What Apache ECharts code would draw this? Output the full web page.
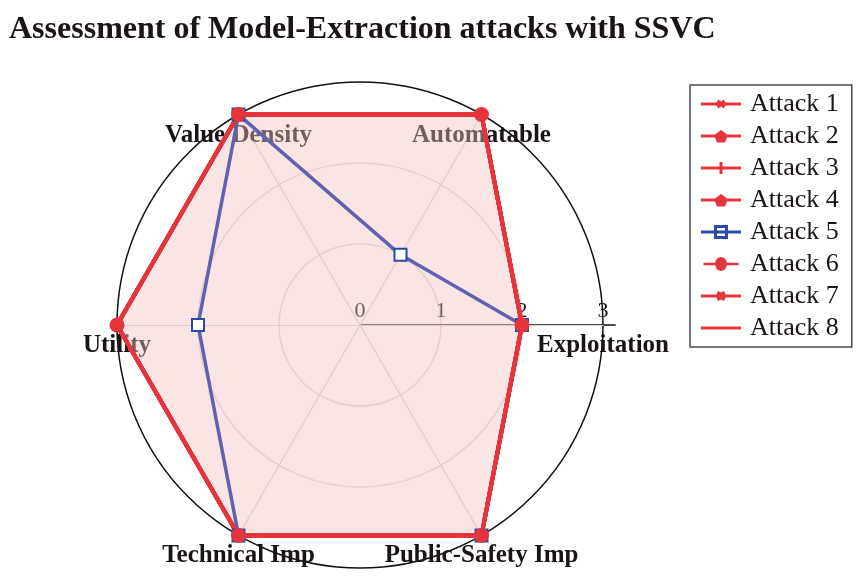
<!DOCTYPE html>
<html>
<head>
<meta charset="utf-8">
<script src="https://cdn.jsdelivr.net/npm/echarts@6/dist/echarts.min.js"></script>
<style>html,body{margin:0;padding:0;background:#fff}#c{width:865px;height:579px}</style>
</head>
<body>
<div id="c"></div>
<script>
const titleText = 'Assessment of Model-Extraction attacks with SSVC';
const indicators = ['Exploitation', 'Automatable', 'Value Density', 'Utility', 'Technical Imp', 'Public-Safety Imp'];
const axisMax = 3;
const tickValues = [0, 1, 2, 3];
const seriesNames = ['Attack 1', 'Attack 2', 'Attack 3', 'Attack 4', 'Attack 5', 'Attack 6', 'Attack 7', 'Attack 8'];
const attack1 = [2, 3, 3, 3, 3, 3];
const attack2 = [2, 3, 3, 3, 3, 3];
const attack3 = [2, 3, 3, 3, 3, 3];
const attack4 = [2, 3, 3, 3, 3, 3];
const attack5 = [2, 1, 3, 2, 3, 3];
const attack6 = [2, 3, 3, 3, 3, 3];
const attack7 = [2, 3, 3, 3, 3, 3];
const attack8 = [2, 3, 3, 3, 3, 3];
const seriesValues = [attack1, attack2, attack3, attack4, attack5, attack6, attack7, attack8];

const RED = '#e5343b';
const BLUE = '#2a4aa8';
const BLUE_LINE = '#6061b0';
const SERIF = "'Liberation Serif', 'DejaVu Serif', serif";

const T = 'M0,0L0.01,0L0,0.01Z M40,14L39.99,14L40,13.99Z ';
const legendIcons = [
  'path://' + T + 'M0,5.5H15.5L17.5,2.5L20,4.5L22.5,2.5L24.5,5.5H40V8.5H24.5L22.5,11.5L20,9.5L17.5,11.5L15.5,8.5H0Z',
  'path://' + T + 'M0,5.5H14L20,1L26,5.5H40V8.5H26L24,13.5H16L14,8.5H0Z',
  'path://' + T + 'M0,5.5H18.5V1H21.5V5.5H40V8.5H21.5V13H18.5V8.5H0Z',
  'path://' + T + 'M0,5.5H14L20,1L26,5.5H40V8.5H26L24,13.5H16L14,8.5H0Z',
  'path://' + T + 'M0,5.5H40V8.5H0Z M13,0H27V14H13Z M16,3V11H24V3Z',
  'path://' + T + 'M0,5.5H13.5A6.5,6.5 0 0 1 26.5,5.5H40V8.5H26.5A6.5,6.5 0 0 1 13.5,8.5H0Z',
  'path://' + T + 'M0,5.5H15.5L17,2L20,3.5L23,2L24.5,5.5H40V8.5H24.5L23,12L20,10.5L17,12L15.5,8.5H0Z',
  'path://' + T + 'M0,5.5H40V8.5H0Z'
];
const legendColors = [RED, RED, RED, RED, BLUE, RED, RED, RED];

const symbols = [
  'path://M4,0H6V4H10V6H6V10H4V6H0V4H4Z',
  'path://M5,0L10,3.8L8.1,10H1.9L0,3.8Z',
  'path://M4,0H6V4H10V6H6V10H4V6H0V4H4Z',
  'path://M5,0L10,3.8L8.1,10H1.9L0,3.8Z',
  'emptyRect',
  'circle',
  'path://M5,0L6.2,3.5L10,3.8L7,6.2L8.1,10L5,7.8L1.9,10L3,6.2L0,3.8L3.8,3.5Z',
  'none'
];

const chart = echarts.init(document.getElementById('c'), null, {renderer: 'canvas'});

const series = seriesNames.map((name, i) => {
  const isBlue = i === 4;
  return {
    type: 'radar',
    name: name,
    radarIndex: 0,
    z: 2,
    symbol: symbols[i],
    symbolSize: isBlue ? 12 : (i === 5 ? 15 : 9),
    symbolRotate: i === 0 ? 45 : 0,
    itemStyle: {color: isBlue ? BLUE : RED, borderWidth: isBlue ? 3 : 0, borderColor: isBlue ? BLUE : RED},
    lineStyle: {color: isBlue ? BLUE_LINE : RED, width: isBlue ? 3.5 : 4},
    areaStyle: i === 0 ? {color: 'rgba(242,192,192,0.6)'} : undefined,
    data: [{value: seriesValues[i], name: name}]
  };
});

chart.setOption({
  animation: false,
  backgroundColor: '#fff',
  title: {
    text: titleText,
    left: 4, top: 9,
    textStyle: {fontFamily: SERIF, fontWeight: 'bold', fontSize: 32, color: '#1a1414'}
  },
  legend: {
    orient: 'vertical',
    left: 690, top: 85,
    padding: [6, 13, 6, 11],
    borderColor: '#4a4a4a', borderWidth: 1.5,
    itemWidth: 40, itemHeight: 14, itemGap: 6,
    textStyle: {fontFamily: SERIF, fontSize: 26, color: '#1a1414', lineHeight: 24, padding: [0, 0, 0, 4]},
    data: seriesNames.map((n, i) => ({name: n, icon: legendIcons[i], itemStyle: {color: legendColors[i], borderWidth: 0}}))
  },
  radar: {
    z: 0,
    center: [360, 325],
    radius: 243,
    startAngle: 0,
    shape: 'circle',
    splitNumber: 3,
    nameGap: 0,
    indicator: indicators.map(n => ({name: n, min: 0, max: axisMax})),
    axisName: {
      color: '#1a1414', fontFamily: SERIF, fontWeight: 'bold', fontSize: 25,
      align: 'center', verticalAlign: 'top', padding: [8, 0, 0, 0]
    },
    axisLine: {lineStyle: {color: '#d4d4d4', width: 1.2}},
    splitLine: {lineStyle: {color: ['#dcdcdc', '#dcdcdc', '#dcdcdc', '#111'], width: 1.5}},
    splitArea: {show: false},
    axisTick: {show: false},
    axisLabel: {show: false}
  },
  polar: {center: [360, 325], radius: 243 * 3.15 / 3},
  angleAxis: {show: false, startAngle: 0, min: 0, max: 360},
  radiusAxis: {
    z: 0,
    min: 0, max: 3.15, interval: 1,
    axisLine: {lineStyle: {color: '#111', width: 1.5}},
    axisTick: {show: false},
    splitLine: {show: false},
    axisLabel: {
      showMaxLabel: false, margin: 3,
      fontFamily: SERIF, fontSize: 22, color: '#1a1414',
      formatter: v => (tickValues.indexOf(v) >= 0 ? String(v) : '')
    }
  },
  series: series
});
</script>
</body>
</html>
